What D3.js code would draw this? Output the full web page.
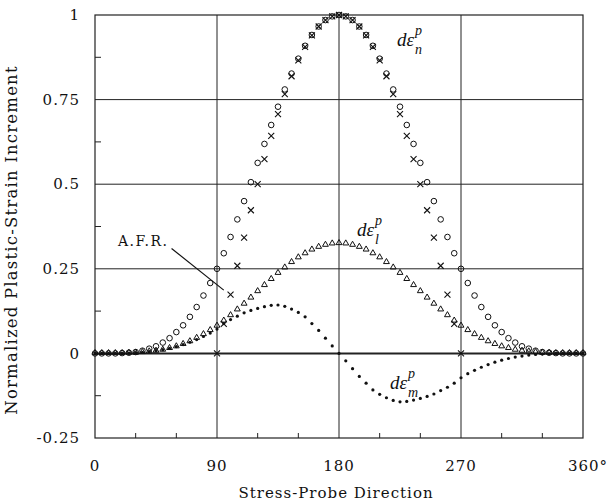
<!DOCTYPE html>
<html>
<head>
<meta charset="utf-8">
<script src="https://cdn.jsdelivr.net/npm/d3@7"></script>
<style>
  body { margin: 0; background: #fff; }
  svg { display: block; }
  text { font-family: 'DejaVu Serif', 'Liberation Serif', serif; fill: #111; }
  .sym { font-family: 'Liberation Serif', serif; font-style: italic; }
</style>
</head>
<body>
<svg id="chart" width="609" height="504"></svg>
<script>
// stress-probe directions (deg), every 5 degrees
const angles = [0,5,10,15,20,25,30,35,40,45,50,55,60,65,70,75,80,85,90,95,100,105,110,115,120,125,130,135,140,145,150,155,160,165,170,175,180,
  185,190,195,200,205,210,215,220,225,230,235,240,245,250,255,260,265,270,275,280,285,290,295,300,305,310,315,320,325,330,335,340,345,350,355,360];

// d eps_n (circles)
const epsN = [0,0,0,0,0.001,0.002,0.004,0.008,0.014,0.021,0.032,0.045,0.063,0.083,0.108,0.137,0.171,0.208,0.25,0.296,0.344,0.396,0.45,0.506,0.563,0.619,0.675,0.729,0.78,0.827,0.871,0.909,0.941,0.966,0.985,0.996,1,
  0.996,0.985,0.966,0.941,0.909,0.871,0.827,0.78,0.729,0.675,0.619,0.563,0.506,0.45,0.396,0.344,0.296,0.25,0.208,0.171,0.137,0.108,0.083,0.063,0.045,0.032,0.021,0.014,0.008,0.004,0.002,0.001,0,0,0,0];

// d eps_l (triangles)
const epsL = [0,0,0,0,0,0.001,0.001,0.003,0.005,0.007,0.01,0.015,0.02,0.027,0.035,0.045,0.056,0.068,0.081,0.096,0.112,0.129,0.146,0.164,0.183,0.201,0.219,0.237,0.253,0.269,0.283,0.295,0.306,0.314,0.32,0.324,0.325,
  0.324,0.32,0.314,0.306,0.295,0.283,0.269,0.253,0.237,0.219,0.201,0.183,0.164,0.146,0.129,0.112,0.096,0.081,0.068,0.056,0.045,0.035,0.027,0.02,0.015,0.01,0.007,0.005,0.003,0.001,0.001,0,0,0,0,0];

// d eps_m (dots)
const epsM = [0,0,0,0,0,0.001,0.002,0.003,0.005,0.008,0.011,0.015,0.02,0.026,0.033,0.041,0.05,0.06,0.072,0.088,0.1,0.11,0.12,0.127,0.133,0.138,0.142,0.143,0.139,0.131,0.121,0.108,0.088,0.068,0.045,0.022,0,
  -0.022,-0.045,-0.068,-0.088,-0.108,-0.121,-0.131,-0.139,-0.143,-0.142,-0.138,-0.133,-0.127,-0.12,-0.11,-0.1,-0.088,-0.072,-0.06,-0.05,-0.041,-0.033,-0.026,-0.02,-0.015,-0.011,-0.008,-0.005,-0.003,-0.002,-0.001,0,0,0,0,0];

// A.F.R. (crosses), 90..270 only
const afrAngles = [90,95,100,105,110,115,120,125,130,135,140,145,150,155,160,165,170,175,180,185,190,195,200,205,210,215,220,225,230,235,240,245,250,255,260,265,270];
const afr = [0,0.087,0.174,0.259,0.342,0.423,0.5,0.574,0.643,0.707,0.766,0.819,0.866,0.906,0.94,0.966,0.985,0.996,1,
  0.996,0.985,0.966,0.94,0.906,0.866,0.819,0.766,0.707,0.643,0.574,0.5,0.423,0.342,0.259,0.174,0.087,0];

// ticks
const xMajor = [0, 90, 180, 270, 360];
const xLabels = ['0', '90', '180', '270', '360°'];
const xMinor = [30, 60, 120, 150, 210, 240, 300, 330];
const yMajor = [-0.25, 0, 0.25, 0.5, 0.75, 1];
const yLabels = ['-0.25', '0', '0.25', '0.5', '0.75', '1'];
const yMinor = [-0.125, 0.125, 0.375, 0.625, 0.875];

// A.F.R. pointer, in data units
const afrPointer = [[56.5, 0.31], [95, 0.187]];

const svg = d3.select('#chart');
const x = d3.scaleLinear().domain([0, 360]).range([95, 583]);
const y = d3.scaleLinear().domain([-0.25, 1]).range([438, 15]);

const g = svg.append('g');

// grid lines
g.append('g').selectAll('line.vgrid')
  .data(xMajor.slice(1, -1))
  .enter().append('line')
  .attr('x1', d => x(d)).attr('x2', d => x(d))
  .attr('y1', y(1)).attr('y2', y(-0.25))
  .attr('stroke', '#222').attr('stroke-width', 1);

g.append('g').selectAll('line.hgrid')
  .data(yMajor.slice(1, -1))
  .enter().append('line')
  .attr('x1', x(0)).attr('x2', x(360))
  .attr('y1', d => y(d)).attr('y2', d => y(d))
  .attr('stroke', '#222')
  .attr('stroke-width', d => d === 0 ? 2 : 1);

// frame
g.append('rect')
  .attr('x', x(0)).attr('y', y(1))
  .attr('width', x(360) - x(0)).attr('height', y(-0.25) - y(1))
  .attr('fill', 'none').attr('stroke', '#222').attr('stroke-width', 1.2);

// minor ticks (inside)
g.append('g').selectAll('line')
  .data(xMinor)
  .enter().append('line')
  .attr('x1', d => x(d)).attr('x2', d => x(d))
  .attr('y1', y(-0.25)).attr('y2', y(-0.25) - 5)
  .attr('stroke', '#222');

g.append('g').selectAll('line')
  .data(yMinor)
  .enter().append('line')
  .attr('x1', x(0)).attr('x2', x(0) + 6)
  .attr('y1', d => y(d)).attr('y2', d => y(d))
  .attr('stroke', '#222');

// tick labels
g.append('g').selectAll('text')
  .data(yMajor)
  .enter().append('text')
  .attr('x', 80)
  .attr('y', d => y(d))
  .attr('dy', '0.35em')
  .attr('text-anchor', 'end')
  .attr('font-size', 15)
  .attr('letter-spacing', 1)
  .text((d, i) => yLabels[i]);

g.append('g').selectAll('text')
  .data(xMajor)
  .enter().append('text')
  .attr('x', d => x(d))
  .attr('dx', d => d === 360 ? 5 : 0)
  .attr('y', 471)
  .attr('text-anchor', 'middle')
  .attr('font-size', 15)
  .attr('letter-spacing', 1)
  .text((d, i) => xLabels[i]);

// axis titles
svg.append('text')
  .attr('x', 336).attr('y', 498)
  .attr('text-anchor', 'middle')
  .attr('font-size', 15)
  .attr('letter-spacing', 1)
  .text('Stress-Probe Direction');

svg.append('text')
  .attr('transform', 'translate(17,240) rotate(-90)')
  .attr('text-anchor', 'middle')
  .attr('font-size', 16.5)
  .attr('letter-spacing', 1.2)
  .text('Normalized Plastic-Strain Increment');

// series
const pts = (vals, angs) => vals.map((v, i) => ({ a: angs[i], v: v }));

g.append('g').selectAll('circle')
  .data(pts(epsM, angles))
  .enter().append('circle')
  .attr('cx', d => x(d.a)).attr('cy', d => y(d.v))
  .attr('r', 1.6)
  .attr('fill', '#111');

const tri = d3.symbol().type(d3.symbolTriangle).size(15);
g.append('g').selectAll('path')
  .data(pts(epsL, angles))
  .enter().append('path')
  .attr('d', tri)
  .attr('transform', d => `translate(${x(d.a)},${y(d.v) - 0.5})`)
  .attr('fill', 'none').attr('stroke', '#111').attr('stroke-width', 1);

g.append('g').selectAll('circle')
  .data(pts(epsN, angles))
  .enter().append('circle')
  .attr('cx', d => x(d.a)).attr('cy', d => y(d.v))
  .attr('r', 2.8)
  .attr('fill', 'none').attr('stroke', '#111').attr('stroke-width', 1);

g.append('g').selectAll('path')
  .data(pts(afr, afrAngles))
  .enter().append('path')
  .attr('d', 'M-3,-3L3,3M-3,3L3,-3')
  .attr('transform', d => `translate(${x(d.a)},${y(d.v)})`)
  .attr('stroke', '#111').attr('stroke-width', 1.1);

// A.F.R. annotation
svg.append('text')
  .attr('x', 118).attr('y', 246)
  .attr('font-size', 14)
  .attr('letter-spacing', 1.5)
  .text('A.F.R.');

svg.append('line')
  .attr('x1', x(afrPointer[0][0])).attr('y1', y(afrPointer[0][1]))
  .attr('x2', x(afrPointer[1][0])).attr('y2', y(afrPointer[1][1]))
  .attr('stroke', '#111').attr('stroke-width', 1.2);

// series labels  d eps ^p _sub
function epsLabel(px, py, sub) {
  const main = svg.append('text')
    .attr('class', 'sym')
    .attr('x', px).attr('y', py)
    .attr('font-size', 19)
    .text('dε');
  const w = main.node().getComputedTextLength();
  svg.append('text')
    .attr('class', 'sym')
    .attr('x', px + w + 1).attr('y', py - 11)
    .attr('font-size', 14)
    .text('p');
  svg.append('text')
    .attr('class', 'sym')
    .attr('x', px + w + 1).attr('y', py + 8)
    .attr('font-size', 14)
    .text(sub);
}
epsLabel(397, 46, 'n');
epsLabel(357, 236, 'l');
epsLabel(390, 389, 'm');
</script>
</body>
</html>
